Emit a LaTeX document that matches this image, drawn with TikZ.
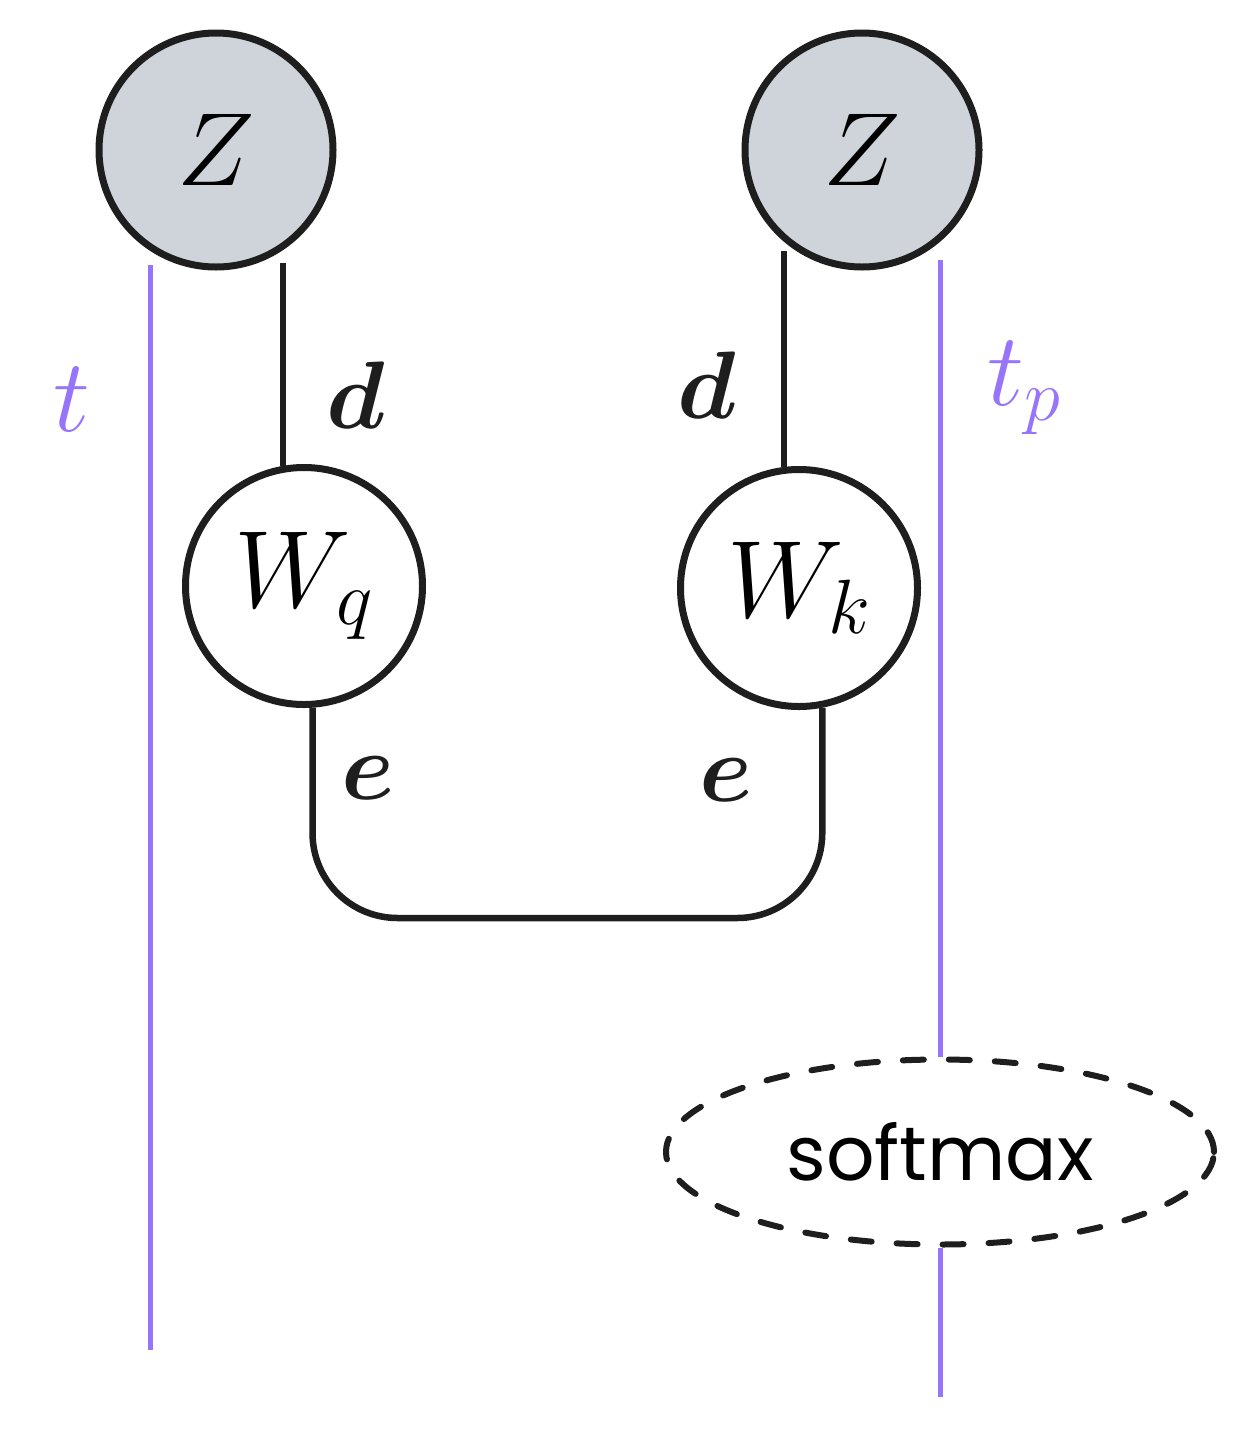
\RequirePackage{fix-cm}
\documentclass[tikz,border=0pt]{standalone}
\usepackage{fontspec}
\newfontfamily\handfont{Poppins}
\usetikzlibrary{shapes.geometric}
\definecolor{ink}{HTML}{1E1E1E}
\definecolor{vio}{HTML}{9775FA}
\definecolor{zfill}{HTML}{CED4DA}
\begin{document}
\begin{tikzpicture}[x=1pt,y=-1pt,
  zcirc/.style={circle,draw=ink,fill=zfill,line width=7pt,minimum size=234pt,inner sep=0pt,font=\fontsize{104}{114}\selectfont},
  wcirc/.style={circle,draw=ink,fill=white,line width=7pt,minimum size=237pt,inner sep=0pt,font=\fontsize{110}{120}\selectfont},
  wire/.style={draw=ink,line width=6.5pt},
  vline/.style={draw=vio,line width=5pt},
  mlab/.style={text=ink,font=\boldmath\fontsize{96}{110}\selectfont,inner sep=0pt},
  vlab/.style={text=vio,font=\fontsize{104}{114}\selectfont,inner sep=0pt},
  smbox/.style={ellipse,draw=ink,line width=6pt,dash pattern=on 21pt off 25pt,line cap=round,minimum width=548pt,minimum height=185pt,inner sep=0pt,font=\handfont\fontsize{76}{90}\selectfont}]
\useasboundingbox (0,0) rectangle (1250,1438);

% coordinates
\coordinate (ub) at (0,918);
\coordinate (tl1) at (150,265);
\coordinate (tl2) at (150,1350);
\coordinate (tr1) at (940,260);
\coordinate (tr2) at (940,1397);

% nodes
\node[zcirc] (zl) at (216,150) {$Z$};
\node[zcirc] (zr) at (862,150) {$Z$};
\node[wcirc] (wq) at (304,586) {$W_q$};
\node[wcirc] (wk) at (799,588) {$W_k$};
\node[smbox] (sm) at (940,1152) {softmax};

% labels
\node[vlab] (tlab) at (72,400) {$t$};
\node[vlab] (tplab) at (1024,388) {$t_p$};
\node[mlab] (dl) at (356,395) {$d$};
\node[mlab] (dr) at (707,385) {$d$};
\node[mlab] (el) at (368,778) {$e$};
\node[mlab] (er) at (726,780) {$e$};

% black wires
\draw[wire,shorten >=12pt] (wq.100) -- (wq.100 |- zl.-57);
\draw[wire,shorten >=10pt] (wk.97) -- (wk.97 |- zr.-131);
\draw[wire,rounded corners=85pt] (wq.-86) -- (wq.-86 |- ub) -- (wk.-79 |- ub) -- (wk.-79);

% purple lines
\draw[vline] (tl1) -- (tl2);
\draw[vline] (tr1) -- (sm.north);
\draw[vline] (sm.south) -- (tr2);
\end{tikzpicture}
\end{document}
